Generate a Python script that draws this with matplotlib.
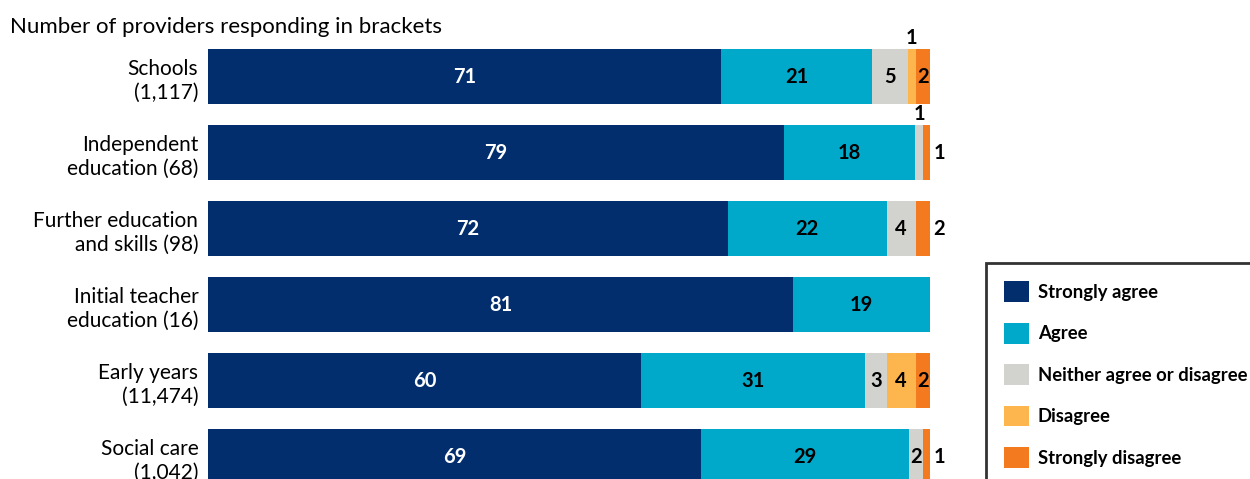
import matplotlib
matplotlib.use("Agg")
import matplotlib.pyplot as plt
from matplotlib.patches import Patch
import numpy as np

plt.rcParams['font.family'] = ['Lato', 'DejaVu Sans']

categories = ["Schools\n(1,117)", "Independent\neducation (68)", "Further education\nand skills (98)",
              "Initial teacher\neducation (16)", "Early years\n(11,474)", "Social care\n(1,042)"]
series = ["Strongly agree", "Agree", "Neither agree or disagree", "Disagree", "Strongly disagree"]
strongly_agree = [71, 79, 72, 81, 60, 69]
agree = [21, 18, 22, 19, 31, 29]
neither = [5, 1, 4, 0, 3, 2]
disagree = [1, 0, 0, 0, 4, 0]
strongly_disagree = [2, 1, 2, 0, 2, 1]

colors = ["#032e6e", "#00a9ca", "#d2d2ce", "#fdb54e", "#f47a20"]
text_colors = ["white", "black", "black", "black", "black"]

# labels that do not fit inside the segment: (row, series) -> where
outside = {(0, 3): "above", (1, 2): "above", (1, 4): "right", (2, 4): "right", (5, 4): "right"}

data = np.array([strongly_agree, agree, neither, disagree, strongly_disagree], dtype=float)
widths = data / data.sum(axis=0) * 100  # rows rounded, scale each bar to 100%

fig = plt.figure(figsize=(12.5, 4.79), dpi=100)
ax = fig.add_axes([208 / 1250, 0, (930 - 208) / 1250, 1])

y = np.arange(len(categories))
left = np.zeros(len(categories))
for s in range(len(series)):
    ax.barh(y, widths[s], left=left, height=0.724, color=colors[s], label=series[s])
    for i in range(len(categories)):
        v = data[s, i]
        if v == 0:
            continue
        cx = left[i] + widths[s, i] / 2
        where = outside.get((i, s))
        if where == "above":
            ax.text(cx, y[i] - 0.37, "%d" % v, ha="center", va="bottom", fontsize=14.5,
                    fontweight="bold", color="black")
        elif where == "right":
            ax.text(101.3, y[i], "%d" % v, ha="center", va="center", fontsize=14.5,
                    fontweight="bold", color="black")
        else:
            ax.text(cx, y[i], "%d" % v, ha="center", va="center", fontsize=14.5,
                    fontweight="bold", color=text_colors[s])
    left += widths[s]

ax.set_xlim(0, 100)
ax.set_ylim(5.296, -1.007)
ax.set_yticks(y)
ax.set_yticklabels(categories, fontsize=15, linespacing=1.25)
ax.tick_params(axis="y", length=0, pad=7)
ax.set_xticks([])
for sp in ax.spines.values():
    sp.set_visible(False)

fig.text(10 / 1250, 1 - 27 / 479, "Number of providers responding in brackets", fontsize=16,
         ha="left", va="center")

handles = [Patch(facecolor=c, edgecolor="none") for c in colors]
leg = fig.legend(handles, series, loc="upper left", bbox_to_anchor=(986 / 1250, 1 - 263 / 479),
                 frameon=True, fancybox=False, edgecolor="black",
                 prop={"weight": "bold", "size": 13.3}, handlelength=1.35, handleheight=1.35,
                 labelspacing=1.12, handletextpad=0.45, borderpad=1.0, borderaxespad=0)
leg.get_frame().set_linewidth(2)

fig.savefig("out.png", dpi=100)
